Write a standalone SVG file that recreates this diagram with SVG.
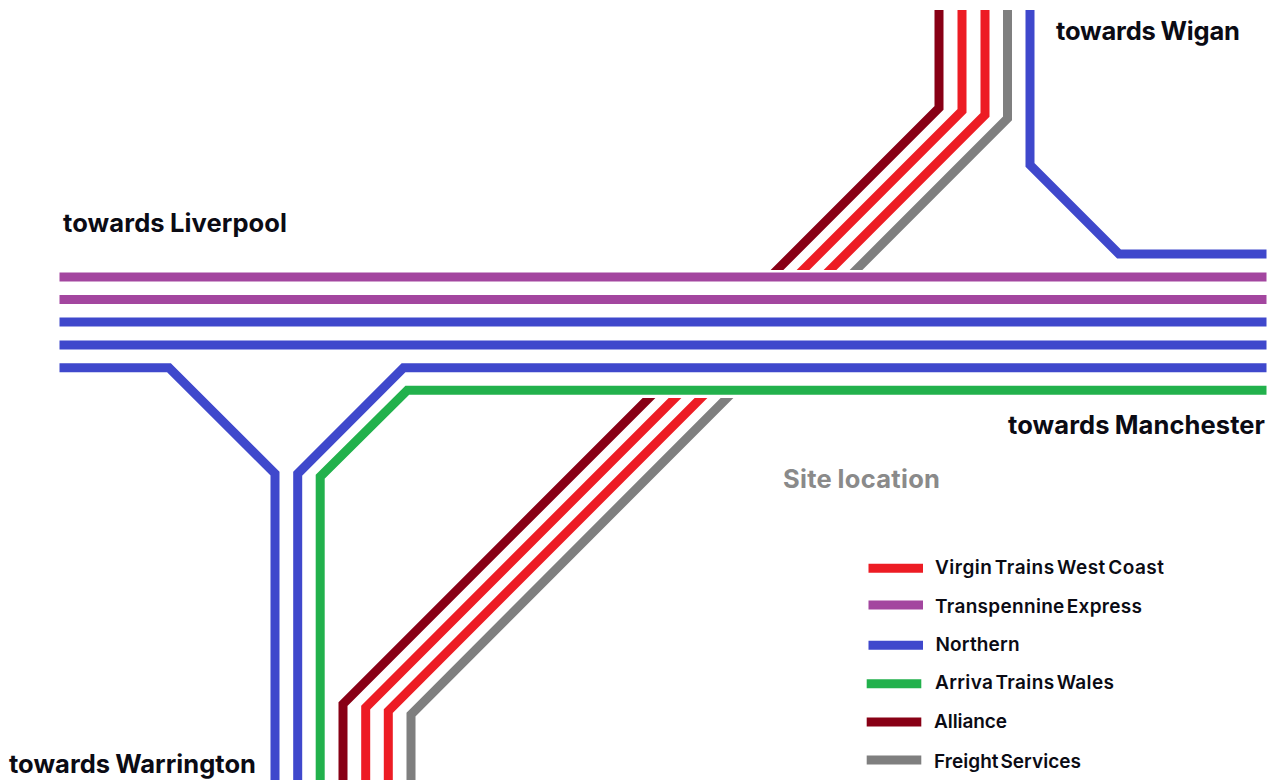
<svg xmlns="http://www.w3.org/2000/svg" width="1272" height="780" viewBox="0 0 1272 780">
<style>
.t{fill:none;stroke-width:9;stroke-linejoin:miter}
.r{stroke:#ED1C24}.p{stroke:#A3469F}.b{stroke:#3F48CC}.g{stroke:#22B14C}.d{stroke:#880015}.y{stroke:#7F7F7F}
text{font-family:"Inter","Liberation Sans",sans-serif;font-weight:700;fill:#0b0b14}
.h{font-size:25.5px;word-spacing:-1px}
.l{font-size:19px;font-weight:600;word-spacing:-3px}
.s{fill:#8a8a8a}
</style>
<defs>
<clipPath id="upper"><rect x="700" y="10" width="400" height="260"/></clipPath>
<clipPath id="lower"><rect x="300" y="398" width="500" height="382"/></clipPath>
</defs>
<rect width="1272" height="780" fill="#fff"/>
<g id="connectors">
<g clip-path="url(#upper)">
<polyline class="t d" points="939,10 939,108 767,280"/>
<polyline class="t r" points="962,10 962,111 793,280"/>
<polyline class="t r" points="985,10 985,115 820,280"/>
<polyline class="t y" points="1007.5,10 1007.5,118.5 846,280"/>
</g>
<g clip-path="url(#lower)">
<polyline class="t d" points="343,780 343,704 659,388"/>
<polyline class="t r" points="365.7,780 365.7,707.5 685,388"/>
<polyline class="t r" points="388.3,780 388.3,711 711,388"/>
<polyline class="t y" points="411,780 411,714.5 737,388"/>
</g>
<polyline class="t b" points="1030,10 1030,165 1119,254 1266.5,254"/>
<line class="t p" x1="59.5" y1="277" x2="1266.5" y2="277"/>
<line class="t p" x1="59.5" y1="299.5" x2="1266.5" y2="299.5"/>
<line class="t b" x1="59.5" y1="322" x2="1266.5" y2="322"/>
<line class="t b" x1="59.5" y1="345" x2="1266.5" y2="345"/>
<polyline class="t b" points="59.5,367.7 169,367.7 275,473.5 275,780"/>
<polyline class="t b" points="297.7,780 297.7,473.7 403.5,367.7 1266.5,367.7"/>
<polyline class="t g" points="320.2,780 320.2,476.7 407.3,390.3 1266.5,390.3"/>
</g>
<g id="label-wigan"><text class="h" x="1056" y="40" textLength="184">towards Wigan</text></g>
<g id="label-liverpool"><text class="h" x="63" y="232" textLength="224">towards Liverpool</text></g>
<g id="label-manchester"><text class="h" x="1008" y="434" textLength="257">towards Manchester</text></g>
<g id="label-warrington"><text class="h" x="9" y="773" textLength="247">towards Warrington</text></g>
<g id="label-site"><text class="h s" x="783" y="488" textLength="157">Site location</text></g>
<g id="legend">
<g id="legend-virgin"><line class="t r" x1="868.5" y1="568.3" x2="923" y2="568.3"/><text class="l" x="935" y="574" textLength="229">Virgin Trains West Coast</text></g>
<g id="legend-transpennine"><line class="t p" x1="868.5" y1="605" x2="923" y2="605"/><text class="l" x="935" y="612.5" textLength="207">Transpennine Express</text></g>
<g id="legend-northern"><line class="t b" x1="868.5" y1="645.3" x2="923" y2="645.3"/><text class="l" x="935.5" y="651" textLength="84">Northern</text></g>
<g id="legend-arriva"><line class="t g" x1="866.7" y1="683.7" x2="921.3" y2="683.7"/><text class="l" x="935" y="689.3" textLength="179">Arriva Trains Wales</text></g>
<g id="legend-alliance"><line class="t d" x1="866.7" y1="722" x2="921.3" y2="722"/><text class="l" x="934" y="727.7" textLength="73">Alliance</text></g>
<g id="legend-freight"><line class="t y" x1="866.7" y1="760" x2="921.3" y2="760"/><text class="l" x="934" y="767.5" textLength="147">Freight Services</text></g>
</g>
</svg>
